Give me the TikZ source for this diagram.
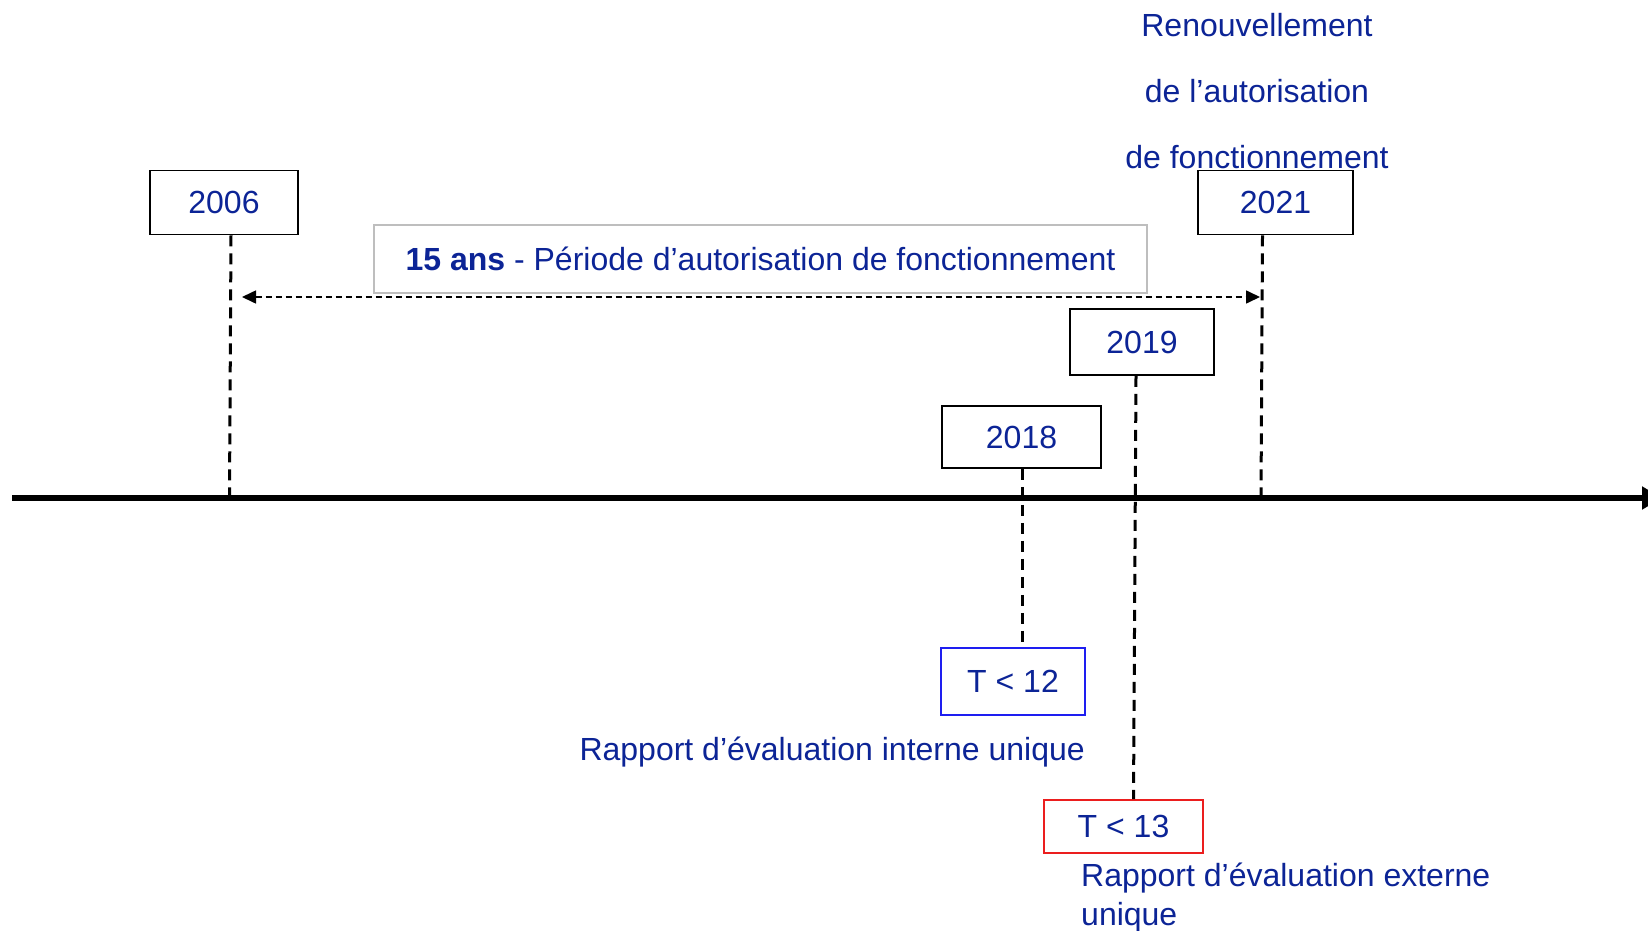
\documentclass[tikz,border=0pt]{standalone}
\usepackage{fontspec}
\setmainfont{Liberation Sans}
\usetikzlibrary{arrows.meta}
\definecolor{txt}{RGB}{12,36,150}
\definecolor{boxgray}{RGB}{190,190,190}
\definecolor{tblue}{RGB}{30,30,240}
\definecolor{tred}{RGB}{235,30,30}
\tikzset{
  bigfont/.style={font=\fontsize{32}{38}\selectfont},
  yearbox/.style={draw=black, line width=1.6pt, minimum width=#1, minimum height=64pt, inner sep=0pt, text=txt, bigfont},
  lbl/.style={text=txt, bigfont, inner sep=0pt},
  vdash/.style={draw=black, line width=3pt, dash pattern=on 11pt off 7pt},
}
\begin{document}
\begin{tikzpicture}[x=1pt,y=-1pt]
\useasboundingbox (0,0) rectangle (1648,931);
% axis
\coordinate (axL) at (12,498);
\coordinate (axR) at (1662,498);
\draw[line width=6pt, -{Triangle[length=20pt,width=22pt]}] (axL) -- (axR);

% boxes
\node[yearbox=148pt] (y2006) at (224,202.5) {2006};
\node[yearbox=155pt] (y2021) at (1275.5,202.5) {2021};
\node[yearbox=144pt, minimum height=66pt] (y2019) at (1142,342) {2019};
\node[yearbox=159pt, minimum height=62pt] (y2018) at (1021.5,437) {2018};
\node[draw=boxgray, line width=1.6pt, minimum width=773pt, minimum height=68pt, inner sep=0pt, text=txt, bigfont] (period) at (760.5,259)
  {\textbf{15 ans} - Période d’autorisation de fonctionnement};
\node[draw=tblue, line width=1.6pt, minimum width=144pt, minimum height=67pt, inner sep=0pt, text=txt, bigfont] (t12) at (1013,681.5) {T < 12};
\node[draw=tred, line width=1.6pt, minimum width=159pt, minimum height=53pt, inner sep=0pt, text=txt, bigfont] (t13) at (1123.5,826.5) {T < 13};

% texts
\node[lbl, align=center] (renouv) at (1257,91)
  {Renouvellement\\[28pt]de l’autorisation\\[28pt]de fonctionnement};
\node[lbl, anchor=base east] (interne) at (1085,760) {Rapport d’évaluation interne unique};
\node[lbl, anchor=base west, align=left] (externe) at (1081,925) {Rapport d’évaluation externe\\[1pt]unique};

% vertical dashed lines
\coordinate (a2006) at (229.5,496);
\coordinate (a2021) at (1261,496);
\draw[vdash] ([xshift=7pt]y2006.south) -- (a2006);
\draw[vdash] ([xshift=-13pt]y2021.south) -- (a2021);
\draw[vdash] ([xshift=-6pt]y2019.south) -- ([xshift=10pt]t13.north);
\draw[vdash] ([xshift=0.5pt]y2018.south) -- ([xshift=9pt]t12.north);

% period arrow
\coordinate (pL) at (242,297);
\coordinate (pR) at (1260,297);
\draw[line width=1.6pt, dash pattern=on 6pt off 4pt, {Triangle[length=14pt,width=13pt]}-{Triangle[length=14pt,width=13pt]}] (pL) -- (pR);
\end{tikzpicture}
\end{document}
